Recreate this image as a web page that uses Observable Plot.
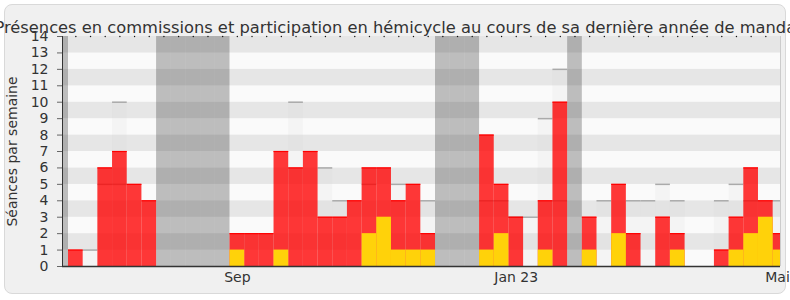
<!DOCTYPE html>
<html><head><meta charset="utf-8">
<script src="https://cdn.jsdelivr.net/npm/d3@7"></script>
<script src="https://cdn.jsdelivr.net/npm/@observablehq/plot@0.6"></script>
<style>
html,body{margin:0;padding:0;background:#fff;}
#box{position:absolute;left:4px;top:4px;width:780px;height:288px;border:1px solid #d9d9d9;border-radius:8px;background:#f0f0f0;}
#chart{position:absolute;left:0;top:0;}
#chart svg{overflow:visible;background:transparent;}
</style></head><body><div id="box"></div><div id="chart"></div>
<script>
const title = "Présences en commissions et participation en hémicycle au cours de sa dernière année de mandat";
const yLabel = "Séances par semaine";

// week index 0..48
const grayTotals   = [0,1,0,10,0,0, 0,0,0,0,0, 0,0,0,0,10,0,6,4,0,0,0,5,0,4, 0,0,0, 0,0,3,3,9,12, 0, 0,4,0,4,4,5,4,0,0,4,5,0,0,4];
const grayInner    = [0,0,5,5,0,0, 0,0,0,0,0, 0,0,0,0,0,0,0,0,0,5,0,0,0,0, 0,0,0, 4,4,0,0,0,4, 0, 0,0,0,0,0,0,0,0,0,0,0,4,0,0];
const redValues    = [1,0,6,7,5,4, 0,0,0,0,0, 2,2,2,7,6,7,3,3,4,6,6,4,5,2, 0,0,0, 8,5,3,0,4,10, 0, 3,0,5,2,0,3,2,0,0,1,3,6,4,2];
const yellowValues = [0,0,0,0,0,0, 0,0,0,0,0, 1,0,0,1,0,0,0,0,0,2,3,1,1,1, 0,0,0, 1,2,0,0,1,0, 0, 1,0,2,0,0,0,1,0,0,0,1,2,3,1];
const vacationWeeks = [-1,6,7,8,9,10,25,26,27,34];
const monthLabels = ["Sep","Jan 23","Mai"];
const monthWeeks = [11,30,48];
const yTicks = d3.range(0,15);

const weeks = grayTotals.map((g,i)=>({i, g, inner: grayInner[i], r: redValues[i], y: yellowValues[i]}));
const xMin = -0.409, xMax = 48.5;
const monthCenters = monthWeeks.map(w=>w+0.5);
const weekCenters = weeks.map(d=>d.i+0.5).filter(c=>c<xMax);
const lastCenter = monthCenters[monthCenters.length-1];
const labelOf = d => monthLabels[monthCenters.indexOf(d)];

const chart = Plot.plot({
  width: 790, height: 300,
  marginLeft: 62, marginRight: 10, marginTop: 36, marginBottom: 34,
  style: {fontFamily: "DejaVu Sans", fontSize: "14px", background: "transparent", color: "#333"},
  x: {domain: [xMin, xMax], axis: null},
  y: {domain: [0, 14], axis: null},
  marks: [
    Plot.rect(yTicks.slice(0,14), {x1: xMin, x2: xMax, y1: d=>d, y2: d=>d+1, fill: d=> d%2 ? "#e6e6e6" : "#fafafa"}),
    Plot.rect(vacationWeeks, {x1: d=>d, x2: d=>d+1, y1: 0, y2: 14, fill: "#323232", fillOpacity: 0.3, clip: true}),
    Plot.rectY(weeks.filter(d=>d.inner>0), {x1: "i", x2: d=>d.i+1, y: "inner", fill: "#cccccc", fillOpacity: 0.1}),
    Plot.ruleY(weeks.filter(d=>d.inner>0), {y: "inner", x1: "i", x2: d=>d.i+1, stroke: "#aaaaaa", strokeWidth: 1.5}),
    Plot.rectY(weeks.filter(d=>d.g>0), {x1: "i", x2: d=>d.i+1, y: "g", fill: "#cccccc", fillOpacity: 0.12, clip: true}),
    Plot.ruleY(weeks.filter(d=>d.g>0), {y: "g", x1: "i", x2: d=>Math.min(d.i+1, xMax), stroke: "#aaaaaa", strokeWidth: 1.5}),
    Plot.rectY(weeks.filter(d=>d.r>0), {x1: "i", x2: d=>d.i+1, y: "r", fill: "#ff0000", fillOpacity: 0.78, clip: true}),
    Plot.ruleY(weeks.filter(d=>d.r>0), {y: "r", x1: "i", x2: d=>Math.min(d.i+1, xMax), stroke: "#ff0000", strokeWidth: 1.2}),
    Plot.rectY(weeks.filter(d=>d.y>0), {x1: "i", x2: d=>d.i+1, y: "y", fill: "#ffd20a", clip: true}),
    Plot.ruleX([xMax], {stroke: "#cccccc"}),
    Plot.ruleX([xMin], {stroke: "#333"}),
    Plot.ruleY([0], {stroke: "#333", strokeWidth: 1.5}),
    Plot.dot(weekCenters, {x: d=>d, frameAnchor: "top", r: 0.7, fill: "#111", stroke: "none"}),
    Plot.axisY(yTicks, {tickSize: 5, tickPadding: 9, fontSize: 14, fill: "#333", stroke: "#666", label: null}),
    Plot.axisX(monthCenters.filter(c=>c!==lastCenter), {tickSize: 0, tickPadding: 6, fontSize: 14, fill: "#333", label: null, tickFormat: labelOf}),
    Plot.axisX([lastCenter], {tickSize: 0, tickPadding: 6, dx: -3, fontSize: 14, fill: "#333", label: null, tickFormat: labelOf}),
    Plot.text([yLabel], {frameAnchor: "left", textAnchor: "middle", rotate: -90, dx: -50, fontSize: 14, fill: "#333"}),
    Plot.text([title], {frameAnchor: "top", textAnchor: "middle", dx: -23, dy: -15, fontSize: 16.3, fill: "#333"})
  ]
});
document.getElementById("chart").appendChild(chart);
</script></body></html>
